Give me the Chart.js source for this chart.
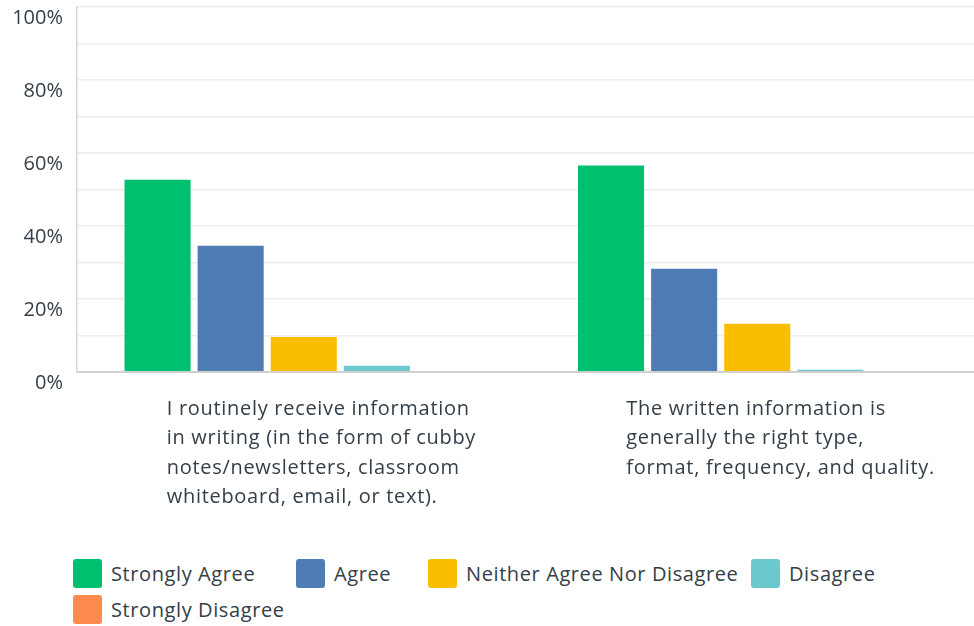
<!DOCTYPE html>
<html>
<head>
<meta charset="utf-8">
<script src="https://cdn.jsdelivr.net/npm/chart.js@4"></script>
<style>
  body { margin: 0; background: #fff; overflow: hidden; width: 974px; height: 626px; }
  #wrap { position: absolute; left: 0; top: 0; width: 984px; height: 530px; }
  #legend {
    position: absolute; left: 0; top: 559px; width: 974px; height: 67px;
    font: 20px "Open Sans", sans-serif; color: #333e48; letter-spacing: 0.6px;
  }
  .item { position: absolute; display: flex; align-items: center; height: 29px; white-space: nowrap; }
  .sw { width: 29px; height: 29px; border-radius: 3px; margin-right: 9px; }
</style>
</head>
<body>
<div id="wrap"><canvas id="chart"></canvas></div>
<div id="legend"></div>
<script>
const categories = [
  ["I routinely receive information", "in writing (in the form of cubby", "notes/newsletters, classroom", "whiteboard, email, or text)."],
  ["The written information is", "generally the right type,", "format, frequency, and quality."]
];
const seriesNames = ["Strongly Agree", "Agree", "Neither Agree Nor Disagree", "Disagree", "Strongly Disagree"];
const seriesColors = ["#00bf6f", "#507cb6", "#f9be00", "#6bc8cd", "#ff8b4f"];
const stronglyAgree = [52.7, 56.6];
const agree = [34.6, 28.3];
const neither = [9.6, 13.2];
const disagree = [1.7, 0.6];
const stronglyDisagree = [0, 0];

const seriesValues = [stronglyAgree, agree, neither, disagree, stronglyDisagree];
const textColor = "#333e48";
const fontFamily = '"Open Sans", sans-serif';
// legend item spots (left, top) in px
const legendSpots = [[73, 0], [296, 0], [428, 0], [751, 0], [73, 36]];
const labelShift = [-137, -131];

// left-aligned multi-line category labels under each group
const xLabels = {
  id: "xLabels",
  afterDraw(chart) {
    const ctx = chart.ctx;
    const xs = chart.scales.x;
    ctx.save();
    ctx.font = "20px " + fontFamily;
    ctx.letterSpacing = "0.7px";
    ctx.fillStyle = textColor;
    ctx.textAlign = "left";
    ctx.textBaseline = "alphabetic";
    chart.data.labels.forEach((lines, i) => {
      const x = xs.getPixelForValue(i) + labelShift[i];
      lines.forEach((line, j) => ctx.fillText(line, x, 415 + j * 29.3));
    });
    ctx.restore();
  }
};

new Chart(document.getElementById("chart"), {
  type: "bar",
  data: {
    labels: categories,
    datasets: seriesNames.map((name, i) => ({
      label: name,
      data: seriesValues[i],
      backgroundColor: seriesColors[i],
      barPercentage: 0.904,
      categoryPercentage: 0.806
    }))
  },
  options: {
    responsive: true,
    maintainAspectRatio: false,
    animation: false,
    layout: { padding: { top: 7, right: 0, left: 0, bottom: 0 } },
    plugins: { legend: { display: false }, tooltip: { enabled: false } },
    scales: {
      x: {
        grid: { display: false },
        border: { display: false },
        ticks: { display: false },
        afterFit(scale) { scale.height = 158; }
      },
      y: {
        min: 0,
        max: 100,
        border: { color: "#d6d6d6", width: 1.5 },
        grid: {
          drawTicks: false,
          color: ctx => ctx.tick && ctx.tick.value === 0 ? "#cfcfcf" : "#ededed",
          lineWidth: ctx => ctx.tick && ctx.tick.value === 0 ? 2 : 1.5
        },
        ticks: {
          stepSize: 10,
          padding: 14,
          labelOffset: 11.5,
          color: textColor,
          font: { size: 20, family: fontFamily },
          callback: v => v % 20 === 0 ? v + "%" : ""
        },
        afterFit(scale) {
          scale.width = 77;
          scale.paddingTop = 0;
          scale.paddingBottom = 0;
        }
      }
    }
  },
  plugins: [xLabels]
});

const legend = document.getElementById("legend");
seriesNames.forEach((name, i) => {
  const item = document.createElement("div");
  item.className = "item";
  item.style.left = legendSpots[i][0] + "px";
  item.style.top = legendSpots[i][1] + "px";
  item.innerHTML = `<span class="sw" style="background:${seriesColors[i]}"></span><span>${name}</span>`;
  legend.appendChild(item);
});
</script>
</body>
</html>
